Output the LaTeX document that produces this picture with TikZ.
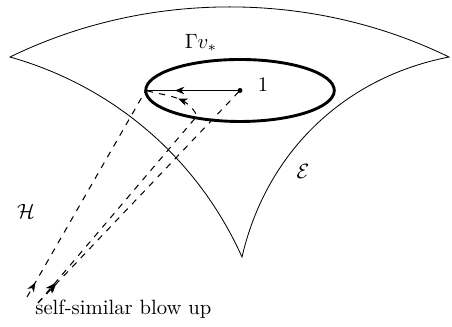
\documentclass[tikz,border=0pt]{standalone}
\usepackage{amsmath}
\usepackage{tikz}
\usetikzlibrary{arrows.meta, decorations.markings}

\begin{document}
\begin{tikzpicture}[
  rim/.style={line width=0.4pt},
  disc/.style={line width=1.4pt},
  flow/.style={dashed, line width=0.5pt},
  dot/.style={circle, fill, inner sep=0pt, minimum size=2.4pt},
  midar/.style={postaction={decorate, decoration={markings,
    mark=at position #1 with {\arrow[solid]{Stealth[length=4.5pt, width=3.6pt, inset=1.4pt]}}}}}
]
  \useasboundingbox (0,0) rectangle (7.684,5.542);

  \coordinate (cl) at (0.170, 4.573);
  \coordinate (cr) at (7.633, 4.573);
  \coordinate (cb) at (4.114, 1.173);
  \draw[rim] (cl) to[bend left=26, looseness=0.89] (cr)
    to[bend right=33, looseness=0.95] (cb)
    to[bend right=25, looseness=0.9] (cl) -- cycle;

  \node[dot] (c) at (4.080, 4.004) {};
  \draw[disc] (c.center) ellipse [x radius=1.603, y radius=0.527];
  \coordinate (w) at (2.477, 4.004);
  \coordinate (p) at (3.349, 3.570);
  \coordinate (a1) at (0.459, 0.493);
  \coordinate (a2) at (0.646, 0.391);

  \draw[midar=0.69] (c.center) -- (w);
  \draw[flow, midar=0.07] (a1) -- (w);
  \draw[flow, midar=0.09] (a2) -- (c.center);
  \draw[flow, midar=0.085, midar=0.89] (a2) -- (p) to[out=115, in=-15] (w);

  \node (gam) at (3.417, 4.811) {$\Gamma v_*$};
  \node (one) at (4.471, 4.097) {$1$};
  \node (calE) at (5.151, 2.635) {$\mathcal{E}$};
  \node (calH) at (0.442, 1.955) {$\mathcal{H}$};
  \node[anchor=base west, inner sep=0pt] (blow) at (0.595, 0.204) {self-similar blow up};
\end{tikzpicture}
\end{document}
